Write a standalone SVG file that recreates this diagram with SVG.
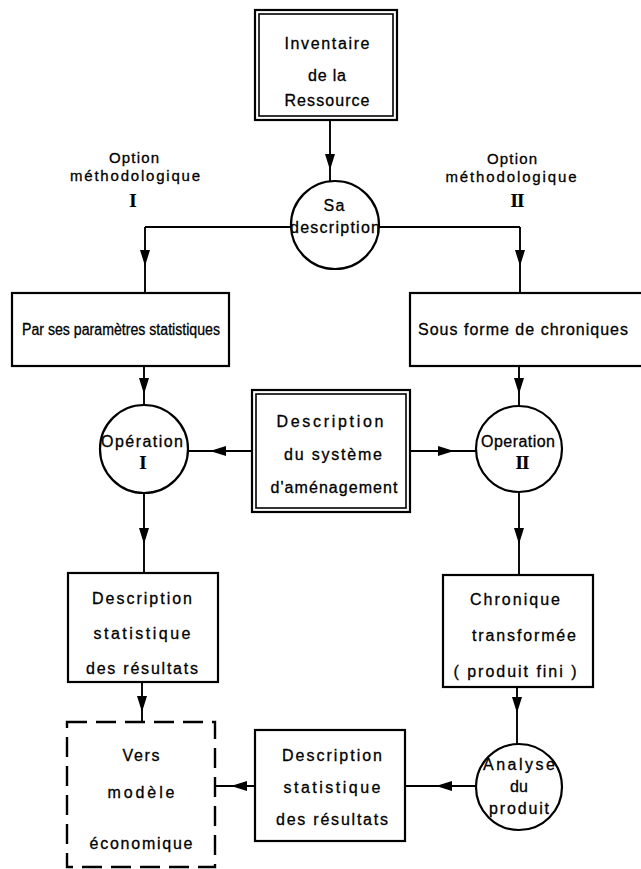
<svg xmlns="http://www.w3.org/2000/svg" width="641" height="869" viewBox="0 0 641 869">
<style>
  .bg { fill: #ffffff; }
  .box { fill: none; stroke: #000; stroke-width: 2.2; }
  .inner { fill: none; stroke: #000; stroke-width: 1.6; }
  .dash { fill: none; stroke: #000; stroke-width: 2.4; stroke-dasharray: 20 9; }
  .node { fill: none; stroke: #000; stroke-width: 2.2; }
  .conn { fill: none; stroke: #000; stroke-width: 1.9; }
  text { font-family: "Liberation Sans", Arial, sans-serif; font-size: 16px; fill: #000; stroke: #000; stroke-width: 0.3; text-anchor: middle; }
  text.s15 { font-size: 15px; }
  text.rom { font-family: "Liberation Serif", "Times New Roman", serif; font-size: 19px; font-weight: bold; stroke-width: 0.2; }
</style>
<defs>
  <marker id="ah" viewBox="0 0 16 10" refX="16" refY="5" markerWidth="16" markerHeight="10" markerUnits="userSpaceOnUse" orient="auto">
    <path d="M0,0 L16,5 L0,10 Z" fill="#000"/>
  </marker>
</defs>
<rect class="bg" x="0" y="0" width="641" height="869"/>

<g id="connectors">
  <path class="conn" d="M330,120 L330,170 L330,182" marker-mid="url(#ah)"/>
  <line class="conn" x1="291" y1="227" x2="145" y2="227"/>
  <path class="conn" d="M145,227 L145,266 L145,293" marker-mid="url(#ah)"/>
  <line class="conn" x1="379" y1="227" x2="520" y2="227"/>
  <path class="conn" d="M520,227 L520,266 L520,293" marker-mid="url(#ah)"/>
  <path class="conn" d="M144,366 L144,394 L144,405" marker-mid="url(#ah)"/>
  <path class="conn" d="M519,366 L519,394 L519,405" marker-mid="url(#ah)"/>
  <path class="conn" d="M252,451 L210,451 L188,451" marker-mid="url(#ah)"/>
  <path class="conn" d="M410,451 L454,451 L476,451" marker-mid="url(#ah)"/>
  <path class="conn" d="M144,493 L144,544 L144,573" marker-mid="url(#ah)"/>
  <path class="conn" d="M519,492 L519,544 L519,575" marker-mid="url(#ah)"/>
  <path class="conn" d="M142,682 L142,712 L142,722" marker-mid="url(#ah)"/>
  <path class="conn" d="M517,687 L517,713 L517,744" marker-mid="url(#ah)"/>
  <path class="conn" d="M476,786 L436,786 L405,786" marker-mid="url(#ah)"/>
  <path class="conn" d="M255,786 L231,786 L215,786" marker-mid="url(#ah)"/>
</g>

<g id="inventaire">
  <rect class="box" x="255" y="10" width="142" height="110"/>
  <rect class="inner" x="259" y="14" width="134" height="102"/>
  <text x="327" y="49" textLength="85" lengthAdjust="spacing">Inventaire</text>
  <text x="327" y="81" textLength="38" lengthAdjust="spacing">de la</text>
  <text x="327" y="106" textLength="85" lengthAdjust="spacing">Ressource</text>
</g>

<g id="option1">
  <text class="s15" x="134" y="163" textLength="50" lengthAdjust="spacing">Option</text>
  <text class="s15" x="135" y="181" textLength="130" lengthAdjust="spacing">méthodologique</text>
  <text class="rom" x="133" y="207">I</text>
</g>

<g id="option2">
  <text class="s15" x="512" y="164" textLength="50" lengthAdjust="spacing">Option</text>
  <text class="s15" x="511" y="182" textLength="131" lengthAdjust="spacing">méthodologique</text>
  <text class="rom" x="517" y="207" letter-spacing="-1">II</text>
</g>

<g id="sa-description">
  <circle class="node" cx="335" cy="225" r="44"/>
  <text x="334" y="211" textLength="21" lengthAdjust="spacing">Sa</text>
  <text x="335" y="233" textLength="90" lengthAdjust="spacing">description</text>
</g>

<g id="parametres">
  <rect class="box" x="12" y="293" width="217" height="73"/>
  <text x="121" y="335" textLength="198" lengthAdjust="spacingAndGlyphs">Par ses paramètres statistiques</text>
</g>

<g id="chroniques">
  <rect class="box" x="410" y="293" width="240" height="73"/>
  <text x="523" y="335" textLength="210" lengthAdjust="spacing">Sous forme de chroniques</text>
</g>

<g id="operation1">
  <circle class="node" cx="144" cy="449" r="44"/>
  <text x="142" y="447" textLength="82" lengthAdjust="spacing">Opération</text>
  <text class="rom" x="143" y="469">I</text>
</g>

<g id="systeme">
  <rect class="box" x="252" y="390" width="158" height="122"/>
  <rect class="inner" x="256" y="394" width="150" height="114"/>
  <text x="330" y="427" textLength="107" lengthAdjust="spacing">Description</text>
  <text x="333" y="460" textLength="98" lengthAdjust="spacing">du système</text>
  <text x="334" y="493" textLength="127" lengthAdjust="spacing">d'aménagement</text>
</g>

<g id="operation2">
  <circle class="node" cx="519" cy="449" r="43"/>
  <text x="518" y="447" textLength="74" lengthAdjust="spacing">Operation</text>
  <text class="rom" x="522" y="469" letter-spacing="-1">II</text>
</g>

<g id="description-stat-1">
  <rect class="box" x="68" y="573" width="150" height="109"/>
  <text x="142" y="604" textLength="100" lengthAdjust="spacing">Description</text>
  <text x="142" y="639" textLength="97" lengthAdjust="spacing">statistique</text>
  <text x="142" y="674" textLength="112" lengthAdjust="spacing">des résultats</text>
</g>

<g id="chronique-transformee">
  <rect class="box" x="443" y="575" width="150" height="112"/>
  <text x="515" y="605" textLength="90" lengthAdjust="spacing">Chronique</text>
  <text x="524" y="641" textLength="104" lengthAdjust="spacing">transformée</text>
  <text x="515" y="677" textLength="123" lengthAdjust="spacing">( produit fini )</text>
</g>

<g id="analyse">
  <circle class="node" cx="519" cy="787" r="43"/>
  <text x="519" y="770" textLength="72" lengthAdjust="spacing">Analyse</text>
  <text x="519" y="792">du</text>
  <text x="519" y="814" textLength="60" lengthAdjust="spacing">produit</text>
</g>

<g id="description-stat-2">
  <rect class="box" x="255" y="730" width="150" height="111"/>
  <text x="332" y="761" textLength="100" lengthAdjust="spacing">Description</text>
  <text x="332" y="793" textLength="97" lengthAdjust="spacing">statistique</text>
  <text x="332" y="825" textLength="112" lengthAdjust="spacing">des résultats</text>
</g>

<g id="modele-economique">
  <rect class="dash" x="67" y="722" width="148" height="145"/>
  <text x="141" y="761" textLength="37" lengthAdjust="spacing">Vers</text>
  <text x="141" y="798" textLength="67" lengthAdjust="spacing">modèle</text>
  <text x="141" y="849" textLength="103" lengthAdjust="spacing">économique</text>
</g>
</svg>
